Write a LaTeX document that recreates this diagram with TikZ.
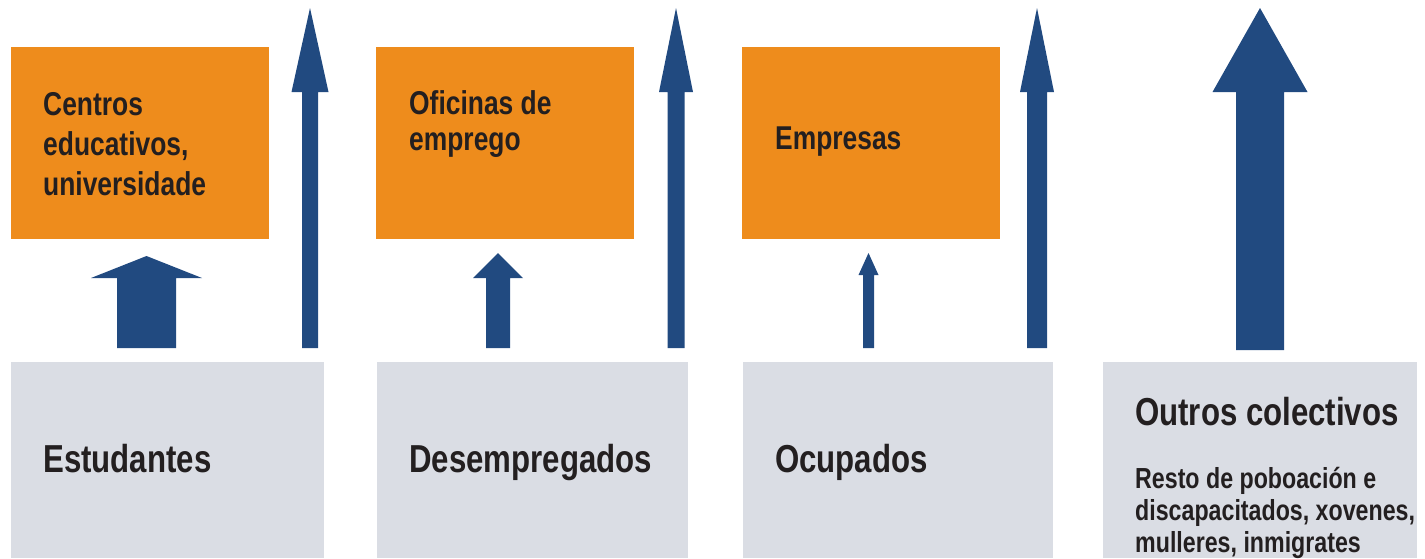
\documentclass[tikz,border=0pt]{standalone}
\usepackage{fontspec}
\setmainfont{Liberation Sans}[FakeStretch=0.8]
\definecolor{laranxa}{RGB}{238,140,28}
\definecolor{azul}{RGB}{33,74,128}
\definecolor{gris}{RGB}{218,221,228}
\definecolor{texto}{RGB}{35,31,32}
\tikzset{
  caixa/.style={fill=laranxa, anchor=north west, minimum width=258pt, minimum height=192pt, inner sep=0pt},
  grupo/.style={fill=gris, anchor=north west, minimum height=196pt, inner sep=0pt},
  rotulo/.style={anchor=base west, inner sep=0pt, text=texto, align=left, font=\bfseries\fontsize{33}{40}\selectfont},
  titulo/.style={anchor=base west, inner sep=0pt, text=texto, font=\bfseries\fontsize{39}{44}\selectfont},
  nota/.style={anchor=base west, inner sep=0pt, text=texto, align=left, font=\bfseries\fontsize{29}{32}\selectfont}
}
% frecha: x, punta, base da cabeza, pe, medio ancho do corpo, medio ancho da cabeza
\newcommand{\frecha}[6]{\fill[azul] (#1-#5,#4) -- (#1-#5,#3) -- (#1-#6,#3) -- (#1,#2) -- (#1+#6,#3) -- (#1+#5,#3) -- (#1+#5,#4) -- cycle;}
\begin{document}
\begin{tikzpicture}[x=1pt, y=-1pt]
  \useasboundingbox (0,0) rectangle (1425,558);
  % caixas laranxa
  \node[caixa] (centros) at (11,47) {};
  \node[caixa] (oficinas) at (376,47) {};
  \node[caixa] (empresas) at (742,47) {};
  \node[rotulo] at ([shift={(32,148)}]centros.north west) {Centros\\educativos,\\universidade};
  \node[rotulo] at ([shift={(33,103)}]oficinas.north west) {Oficinas de\\[-4pt]emprego};
  \node[rotulo] at ([shift={(33,102)}]empresas.north west) {Empresas};
  % colectivos
  \node[grupo, minimum width=313pt] (estudantes) at (11,362) {};
  \node[grupo, minimum width=311pt] (desempregados) at (377,362) {};
  \node[grupo, minimum width=310pt] (ocupados) at (743,362) {};
  \node[grupo, minimum width=314pt] (outros) at (1103,362) {};
  \node[titulo] at ([shift={(32,110)}]estudantes.north west) {Estudantes};
  \node[titulo] at ([shift={(32,110)}]desempregados.north west) {Desempregados};
  \node[titulo] at ([shift={(32,110)}]ocupados.north west) {Ocupados};
  \node[titulo] at ([shift={(32,63)}]outros.north west) {Outros colectivos};
  \node[nota] at ([shift={(32,190)}]outros.north west) {Resto de poboación e\\discapacitados, xovenes,\\mulleres, inmigrates};
  % frechas
  \frecha{146.5}{256}{278}{348}{29.5}{55.5}
  \frecha{310}{8}{92}{348}{8}{18.5}
  \frecha{498}{253}{278}{348}{12}{25}
  \frecha{676}{8}{92}{348}{8.5}{17}
  \frecha{868.5}{253}{275}{348}{5.5}{10}
  \frecha{1037}{8}{92}{348}{10}{17}
  \frecha{1260}{8}{92}{350}{24}{47.5}
\end{tikzpicture}
\end{document}
